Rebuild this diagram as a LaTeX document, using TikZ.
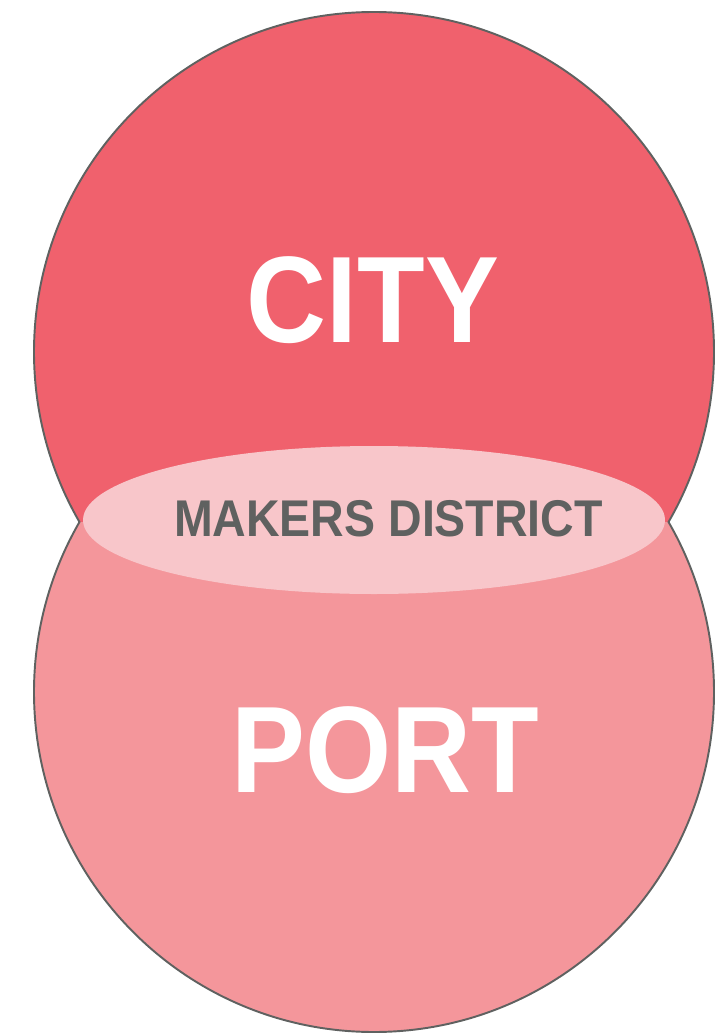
\documentclass[tikz,border=0pt]{standalone}
\usepackage{fontspec}
\newfontfamily\vennfont[FakeStretch=0.9]{Liberation Sans}
\usepackage{tikz}
\usetikzlibrary{shapes.geometric}

\definecolor{cityred}{HTML}{F0616D}
\definecolor{portpink}{HTML}{F4969B}
\definecolor{mixpink}{HTML}{F8C6CA}
\definecolor{rimgray}{HTML}{5F6160}

\begin{document}
\begin{tikzpicture}[
  disc/.style={draw=rimgray,line width=1.1pt},
  biglabel/.style={anchor=base,text=white,font=\vennfont\bfseries\fontsize{70}{70}\selectfont,inner sep=0pt},
  midlabel/.style={anchor=base,text=rimgray,font=\vennfont\bfseries\fontsize{29.4}{30}\selectfont,inner sep=0pt}]
\useasboundingbox (0,0) rectangle (14.44,-20.68);
% upper and lower discs, each kept to its own side of the crossing line
\begin{scope}
\clip (0,0) rectangle (14.44,-10.44);
\node[disc,circle,fill=cityred,minimum size=13.6cm,inner sep=0pt] (city) at (7.48,-7.04) {};
\end{scope}
\begin{scope}
\clip (0,-10.44) rectangle (14.44,-20.68);
\node[disc,circle,fill=portpink,minimum size=13.6cm,inner sep=0pt] (port) at (7.48,-13.84) {};
\end{scope}
\node[ellipse,fill=mixpink,minimum width=11.64cm,minimum height=2.96cm,inner sep=0pt] (mix) at (7.48,-10.4) {};
\node[biglabel] (citytxt) at (7.46,-6.86) {CITY};
\node[biglabel] (porttxt) at (7.71,-15.84) {PORT};
\node[midlabel] (mixtxt) at (7.77,-10.72) {MAKERS DISTRICT};
\end{tikzpicture}
\end{document}
